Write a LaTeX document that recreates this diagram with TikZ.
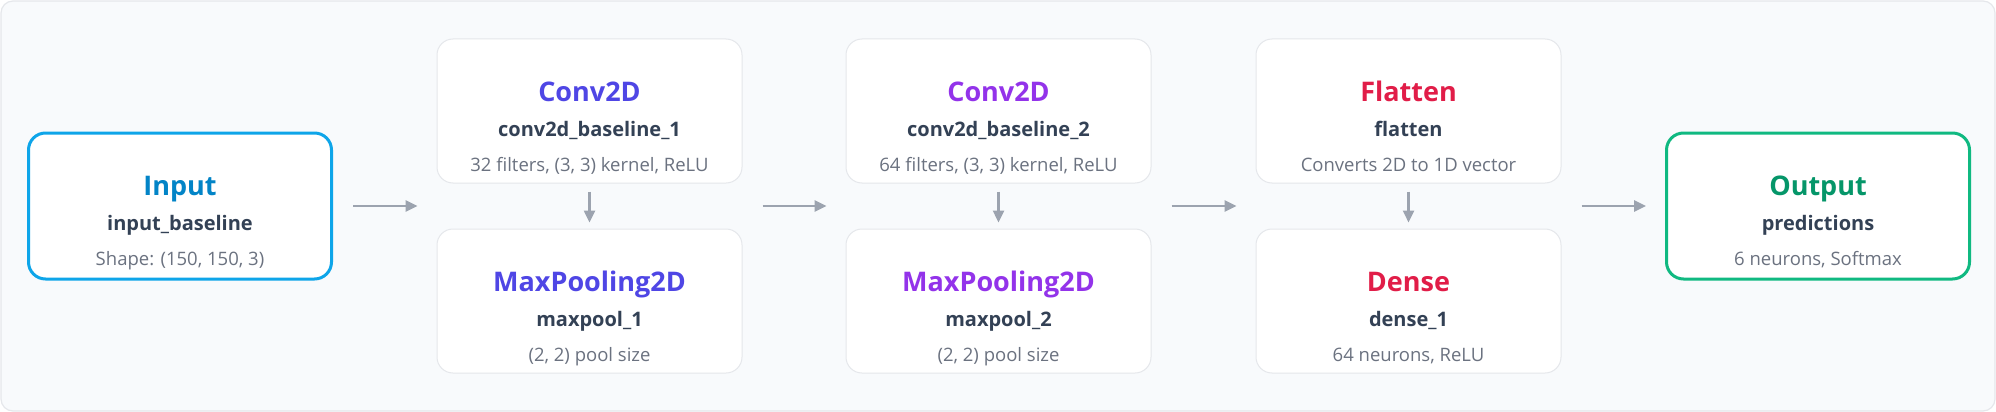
\documentclass[tikz,border=0pt]{standalone}
\usepackage{fontspec}
\setmainfont{Open Sans}
\usetikzlibrary{arrows.meta,calc}
\definecolor{bgc}{HTML}{F8FAFC}
\definecolor{bdc}{HTML}{E5E7EB}
\definecolor{skyb}{HTML}{0EA5E9}
\definecolor{skyt}{HTML}{0284C7}
\definecolor{indc}{HTML}{4F46E5}
\definecolor{purc}{HTML}{9333EA}
\definecolor{rosc}{HTML}{E11D48}
\definecolor{emeb}{HTML}{10B981}
\definecolor{emet}{HTML}{059669}
\definecolor{namec}{HTML}{334155}
\definecolor{descc}{HTML}{6B7280}
\definecolor{arrc}{HTML}{9CA3AF}
\tikzset{
  layerbox/.style={draw=bdc, line width=1pt, fill=white, rounded corners=16pt, minimum width=305pt, inner sep=0pt},
  iobox/.style={line width=3pt, fill=white, rounded corners=17pt, minimum width=303pt, inner sep=0pt},
  ttl/.style={font=\bfseries\fontsize{27}{32}\selectfont, inner sep=0pt, anchor=base},
  nam/.style={font=\bfseries\fontsize{20}{24}\selectfont, text=namec, inner sep=0pt, anchor=base},
  dsc/.style={font=\fontsize{18.5}{22}\selectfont, text=descc, inner sep=0pt, anchor=base},
  conn/.style={draw=arrc, line width=2.5pt, -{Triangle[length=12pt,width=11pt]}},
}
% name, cx, top, height, box style, title colour, title, name, description
\newcommand\lyr[9]{%
  \node[#5, minimum height=#4pt] (#1) at ({#2},{#3+#4/2}) {};
  \node[ttl, text=#6] (#1-t) at ({#2},{#3+62}) {#7};
  \node[nam] (#1-n) at ({#2},{#3+97}) {#8};
  \node[dsc] (#1-d) at ({#2},{#3+132}) {#9};
}
\begin{document}
\begin{tikzpicture}[x=1pt,y=-1pt]
\useasboundingbox (0,0) rectangle (1996,412);
\draw[fill=bgc, draw=bdc, line width=1.2pt, rounded corners=12pt] (1,1) rectangle (1995,411);
\lyr{in}{180}{133}{146}{iobox, draw=skyb}{skyt}{Input}{input\_baseline}{Shape: (150, 150, 3)}
\lyr{c1}{589.5}{39}{144}{layerbox}{indc}{Conv2D}{conv2d\_baseline\_1}{32 filters, (3, 3) kernel, ReLU}
\lyr{p1}{589.5}{229}{144}{layerbox}{indc}{MaxPooling2D}{maxpool\_1}{(2, 2) pool size}
\lyr{c2}{998.5}{39}{144}{layerbox}{purc}{Conv2D}{conv2d\_baseline\_2}{64 filters, (3, 3) kernel, ReLU}
\lyr{p2}{998.5}{229}{144}{layerbox}{purc}{MaxPooling2D}{maxpool\_2}{(2, 2) pool size}
\lyr{fl}{1408.5}{39}{144}{layerbox}{rosc}{Flatten}{flatten}{Converts 2D to 1D vector}
\lyr{de}{1408.5}{229}{144}{layerbox}{rosc}{Dense}{dense\_1}{64 neurons, ReLU}
\lyr{out}{1818}{133}{146}{iobox, draw=emeb}{emet}{Output}{predictions}{6 neurons, Softmax}
% column entry / exit points
\coordinate (k1w) at ($(c1.south west)!0.5!(p1.north west)$);
\coordinate (k1e) at ($(c1.south east)!0.5!(p1.north east)$);
\coordinate (k2w) at ($(c2.south west)!0.5!(p2.north west)$);
\coordinate (k2e) at ($(c2.south east)!0.5!(p2.north east)$);
\coordinate (k3w) at ($(fl.south west)!0.5!(de.north west)$);
\coordinate (k3e) at ($(fl.south east)!0.5!(de.north east)$);
\draw[conn, shorten <=20pt, shorten >=19pt] (in.east) -- (in.east -| k1w);
\draw[conn, shorten <=20pt, shorten >=19pt] (k1e) -- (k2w);
\draw[conn, shorten <=20pt, shorten >=19pt] (k2e) -- (k3w);
\draw[conn, shorten <=20pt, shorten >=19pt] (k3e) -- (k3e -| out.west);
\draw[conn, shorten <=8pt, shorten >=6pt] (c1.south) -- (p1.north);
\draw[conn, shorten <=8pt, shorten >=6pt] (c2.south) -- (p2.north);
\draw[conn, shorten <=8pt, shorten >=6pt] (fl.south) -- (de.north);
\end{tikzpicture}
\end{document}
